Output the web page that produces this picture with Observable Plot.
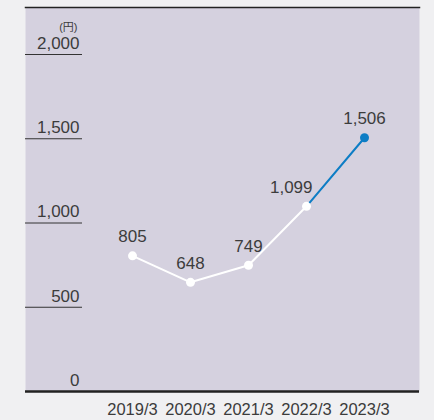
<!DOCTYPE html>
<html><head><meta charset="utf-8">
<script src="https://cdn.jsdelivr.net/npm/d3@7"></script>
<script src="https://cdn.jsdelivr.net/npm/@observablehq/plot@0.6"></script>
<style>
html,body{margin:0;padding:0;background:#f0f0f2;}
svg{display:block;}
</style>
</head><body>
<div id="chart"></div>
<script>
const years = ["2019/3","2020/3","2021/3","2022/3","2023/3"];
const values = [805, 648, 749, 1099, 1506];
const yTicks = [0, 500, 1000, 1500, 2000];
const unitLabel = "(円)";

const data = years.map((y, i) => ({year: y, value: values[i], i}));
const fmt = d3.format(",");
const font = "'Liberation Sans', Arial, 'Noto Sans CJK JP', sans-serif";
const textColor = "#3c3c3c";
const blue = "#0d7dc5";

const chart = Plot.plot({
  width: 434,
  height: 420,
  marginLeft: 25,
  marginRight: 15,
  marginTop: 7,
  marginBottom: 29,
  style: {background: "#f0f0f2", fontFamily: font},
  x: {type: "point", domain: years, padding: 1.3675, align: 0.6625, label: null},
  y: {domain: [0, 2279], label: null, axis: null},
  marks: [
    Plot.frame({fill: "#d5d1df", stroke: null}),
    Plot.frame({anchor: "top", stroke: "#222", strokeWidth: 1.5}),
    Plot.ruleY(yTicks.filter(d => d > 0), {stroke: "#333", strokeWidth: 1, insetRight: 337}),
    Plot.ruleY([0], {stroke: "#222", strokeWidth: 2.5}),
    Plot.text(yTicks, {y: d => d, text: d => fmt(d), frameAnchor: "left", dx: 54, dy: -11, textAnchor: "end", fontSize: 17, fill: textColor}),
    Plot.text([unitLabel], {frameAnchor: "top-left", dx: 52, dy: 16, textAnchor: "end", fontSize: 11, fill: textColor}),
    Plot.axisX({tickSize: 0, tickPadding: 12, fontSize: 16.5, color: textColor}),
    Plot.line(data.slice(0, 4), {x: "year", y: "value", stroke: "white", strokeWidth: 2}),
    Plot.line(data.slice(3), {x: "year", y: "value", stroke: blue, strokeWidth: 2}),
    Plot.dot(data.slice(0, 4), {x: "year", y: "value", r: 4.5, fill: "white", stroke: null}),
    Plot.dot(data.slice(4), {x: "year", y: "value", r: 4.5, fill: blue, stroke: null}),
    Plot.text(data.filter(d => d.i !== 3), {x: "year", y: "value", text: d => fmt(d.value), dy: -19, fontSize: 17, fill: textColor}),
    Plot.text(data.filter(d => d.i === 3), {x: "year", y: "value", text: d => fmt(d.value), dy: -19, dx: 6, textAnchor: "end", fontSize: 17, fill: textColor})
  ]
});
document.getElementById("chart").appendChild(chart);
</script>
</body></html>
